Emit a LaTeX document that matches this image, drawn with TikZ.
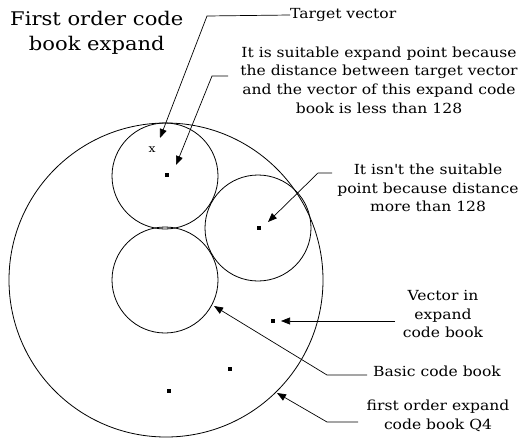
\documentclass[tikz,border=0pt]{standalone}
\usepackage{fontspec}
\setmainfont[FakeStretch=1.12]{DejaVu Serif}
\usetikzlibrary{arrows.meta}
\begin{document}
\begin{tikzpicture}[x=1pt,y=-1pt,
  circ/.style={circle, draw, line width=0.8pt, inner sep=0pt},
  ptdot/.style={rectangle, fill, inner sep=0pt, minimum size=4pt},
  lbl/.style={align=center, font=\fontsize{13.9}{18.6}\selectfont, inner sep=0pt},
  ptr/.style={line width=0.7pt, -{Triangle[length=9pt,width=7pt]}},
  lead/.style={line width=0.7pt}]
\useasboundingbox (0,0) rectangle (521,439);
% circles
\node[circ, minimum size=314pt] (big) at (166,280) {};
\node[circ, minimum size=106pt] (top) at (165,176) {};
\node[circ, minimum size=106pt] (basic) at (165,280) {};
\node[circ, minimum size=106pt] (right) at (258,228) {};
% points
\node[font=\fontsize{11}{12}\selectfont, inner sep=0pt] (xmark) at (152,150) {x};
\node[ptdot] (d1) at (167,175) {};
\node[ptdot] (d2) at (259,228) {};
\node[ptdot] (d3) at (273,321) {};
\node[ptdot] (d4) at (230,369) {};
\node[ptdot] (d5) at (169,391) {};
% title
\node[align=center, font=\fontsize{18.8}{25}\selectfont, inner sep=0pt, anchor=west] (title) at (10,33) {First order code\\book expand};
% labels
\node[lbl, anchor=west] (ltarget) at (290,15) {Target vector};
\node[lbl] (lsuit) at (379,80) {It is suitable expand point because\\the distance between target vector\\and the vector of this expand code\\book is less than 128};
\node[lbl] (lnot) at (428,188) {It isn\textquotesingle t the suitable\\point because distance\\more than 128};
\node[lbl] (lvec) at (443,314) {Vector in\\expand\\code book};
\node[lbl, anchor=west] (lbasic) at (373,371) {Basic code book};
\node[lbl] (lfirst) at (438,416) {first order expand\\code book Q4};
% connector points
\coordinate (b1) at (207,16);
\coordinate (t1) at (160,138);
\coordinate (s0) at (228,76);
\coordinate (b2) at (212,76);
\coordinate (t2) at (176,165);
\coordinate (n0) at (332,173);
\coordinate (b3) at (318,173);
\coordinate (t3) at (268,222);
\coordinate (v0) at (395,321);
\coordinate (t4) at (281,321);
\coordinate (bc0) at (367,375);
\coordinate (b5) at (327,375);
\coordinate (t5) at (214,306);
\coordinate (f0) at (358,422);
\coordinate (b6) at (327,422);
\coordinate (t6) at (277,393);
% connectors
\draw[ptr] (ltarget.west) -- (b1) -- (t1);
\draw[ptr] (s0) -- (b2) -- (t2);
\draw[ptr] (n0) -- (b3) -- (t3);
\draw[ptr] (v0) -- (t4);
\draw[ptr] (bc0) -- (b5) -- (t5);
\draw[ptr] (f0) -- (b6) -- (t6);
\end{tikzpicture}
\end{document}
